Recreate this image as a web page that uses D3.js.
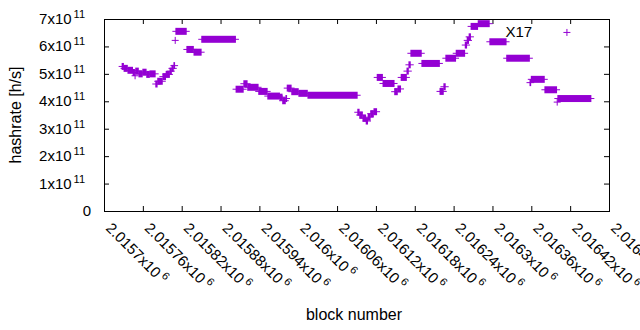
<!DOCTYPE html>
<html>
<head>
<meta charset="utf-8">
<script src="https://cdn.jsdelivr.net/npm/d3@7"></script>
<style>
body { margin: 0; background: #fff; }
text { font-family: "Liberation Sans", Arial, sans-serif; fill: #000; }
</style>
</head>
<body>
<svg id="chart" width="640" height="330"></svg>
<script>
// runs of equal hashrate, one point per block (first block, last block, value)
const runStart = [2015728, 2015731, 2015737, 2015745, 2015748, 2015749, 2015754, 2015760, 2015766, 2015771,
  2015780, 2015783, 2015791, 2015796, 2015802, 2015805, 2015808, 2015810, 2015811, 2015828,
  2015839, 2015851, 2015904, 2015916, 2015922, 2015939, 2015953, 2015972, 2015976, 2015981,
  2015983, 2015990, 2016001, 2016015, 2016092, 2016095, 2016100, 2016105, 2016108, 2016112,
  2016117, 2016122, 2016131, 2016149, 2016154, 2016159, 2016168, 2016171, 2016174, 2016191,
  2016219, 2016225, 2016228, 2016244, 2016258, 2016261, 2016264, 2016267, 2016278, 2016296,
  2016322, 2016358, 2016360, 2016381, 2016400, 2016401];
const runEnd = [2015730, 2015736, 2015744, 2015747, 2015748, 2015753, 2015759, 2015765, 2015770, 2015779,
  2015782, 2015790, 2015795, 2015801, 2015804, 2015807, 2015809, 2015810, 2015827, 2015838,
  2015850, 2015903, 2015915, 2015921, 2015938, 2015952, 2015971, 2015975, 2015980, 2015982,
  2015989, 2016000, 2016014, 2016091, 2016094, 2016099, 2016104, 2016107, 2016111, 2016116,
  2016121, 2016130, 2016148, 2016153, 2016158, 2016167, 2016170, 2016173, 2016190, 2016218,
  2016224, 2016227, 2016243, 2016257, 2016260, 2016263, 2016266, 2016277, 2016295, 2016321,
  2016357, 2016359, 2016380, 2016399, 2016400, 2016452];
const runHashrate = [5.27e11, 5.20e11, 5.13e11, 5.05e11, 4.93e11, 5.10e11, 5.00e11, 5.06e11, 4.98e11, 5.00e11,
  4.63e11, 4.73e11, 4.90e11, 4.98e11, 5.10e11, 5.20e11, 5.30e11, 6.22e11, 6.55e11, 5.89e11,
  5.79e11, 6.26e11, 4.44e11, 4.64e11, 4.51e11, 4.36e11, 4.19e11, 4.15e11, 4.02e11, 4.10e11,
  4.48e11, 4.35e11, 4.29e11, 4.22e11, 3.60e11, 3.50e11, 3.38e11, 3.28e11, 3.42e11, 3.55e11,
  3.62e11, 4.87e11, 4.65e11, 4.35e11, 4.45e11, 4.87e11, 5.10e11, 5.33e11, 5.75e11, 5.38e11,
  4.36e11, 4.53e11, 5.57e11, 5.75e11, 6.05e11, 6.22e11, 6.35e11, 6.73e11, 6.83e11, 6.17e11,
  5.57e11, 4.68e11, 4.80e11, 4.42e11, 3.97e11, 4.10e11];
// stray single points
const strayBlock = [2016415];
const strayHashrate = [6.51e11];

const xTicks = [2015700, 2015760, 2015820, 2015880, 2015940, 2016000, 2016060,
  2016120, 2016180, 2016240, 2016300, 2016360, 2016420, 2016480];
const xTickLabels = ["2.0157", "2.01576", "2.01582", "2.01588", "2.01594", "2.016", "2.01606",
  "2.01612", "2.01618", "2.01624", "2.0163", "2.01636", "2.01642", "2.01648"];
const yTicks = [0, 1e11, 2e11, 3e11, 4e11, 5e11, 6e11, 7e11];
const yTickLabels = ["0", "1", "2", "3", "4", "5", "6", "7"];

const svg = d3.select("#chart");
const plotLeft = 104, plotRight = 609, plotTop = 19, plotBottom = 211;
const purple = "#9400d3";

const x = d3.scaleLinear().domain([2015700, 2016480]).range([plotLeft, plotRight]);
const y = d3.scaleLinear().domain([0, 7e11]).range([plotBottom, plotTop]);

// ticks (gnuplot style, inward and mirrored)
svg.append("g").attr("transform", `translate(0,${plotBottom})`)
  .call(d3.axisBottom(x).tickValues(xTicks).tickSize(-5).tickFormat(""))
  .call(g => g.select(".domain").remove());
svg.append("g").attr("transform", `translate(0,${plotTop})`)
  .call(d3.axisTop(x).tickValues(xTicks).tickSize(-5).tickFormat(""))
  .call(g => g.select(".domain").remove());
svg.append("g").attr("transform", `translate(${plotLeft},0)`)
  .call(d3.axisLeft(y).tickValues(yTicks).tickSize(-5).tickFormat(""))
  .call(g => g.select(".domain").remove());
svg.append("g").attr("transform", `translate(${plotRight},0)`)
  .call(d3.axisRight(y).tickValues(yTicks).tickSize(-5).tickFormat(""))
  .call(g => g.select(".domain").remove());

svg.append("rect")
  .attr("x", plotLeft + 0.5).attr("y", plotTop + 0.5)
  .attr("width", plotRight - plotLeft).attr("height", plotBottom - plotTop)
  .attr("fill", "none").attr("stroke", "#000");

// y tick labels
yTicks.forEach((v, i) => {
  const t = svg.append("text")
    .attr("x", i === 0 ? 91 : 85)
    .attr("y", y(v) + 5)
    .attr("text-anchor", "end")
    .attr("font-size", 15);
  if (i === 0) { t.text("0"); return; }
  t.append("tspan").text(yTickLabels[i] + "x10");
  t.append("tspan").attr("font-size", 11).attr("dy", -6).attr("dx", 2).text("11");
});

// x tick labels, rotated
xTicks.forEach((v, i) => {
  const t = svg.append("text")
    .attr("transform", `translate(${x(v) + 1},229) rotate(45)`)
    .attr("font-size", 15);
  t.append("tspan").text(xTickLabels[i] + "x10");
  t.append("tspan").attr("font-size", 11).attr("dy", -6).attr("dx", 3).text("6");
});

// axis titles
svg.append("text")
  .attr("x", 354).attr("y", 320)
  .attr("text-anchor", "middle").attr("font-size", 16)
  .text("block number");
svg.append("text")
  .attr("transform", `translate(21,${(plotTop + plotBottom) / 2}) rotate(-90)`)
  .attr("text-anchor", "middle").attr("font-size", 16)
  .text("hashrate [h/s]");

// points: each run of "+" marks
const runs = runStart.map((s, i) => ({s: s, e: runEnd[i], v: runHashrate[i]}))
  .concat(strayBlock.map((b, i) => ({s: b, e: b, v: strayHashrate[i]})));

const marks = svg.append("g");
marks.selectAll("rect.run")
  .data(runs).join("rect")
  .attr("class", "run")
  .attr("x", d => x(d.s) - 0.5)
  .attr("width", d => x(d.e) - x(d.s) + 1)
  .attr("y", d => y(d.v) - 3.5)
  .attr("height", 7)
  .attr("fill", purple);
marks.selectAll("line.run")
  .data(runs).join("line")
  .attr("class", "run")
  .attr("x1", d => x(d.s) - 3.5)
  .attr("x2", d => x(d.e) + 3.5)
  .attr("y1", d => y(d.v))
  .attr("y2", d => y(d.v))
  .attr("stroke", purple)
  .attr("stroke-width", 1);

svg.append("text")
  .attr("x", x(2016320)).attr("y", y(6.34e11))
  .attr("font-size", 15)
  .text("X17");
</script>
</body>
</html>
